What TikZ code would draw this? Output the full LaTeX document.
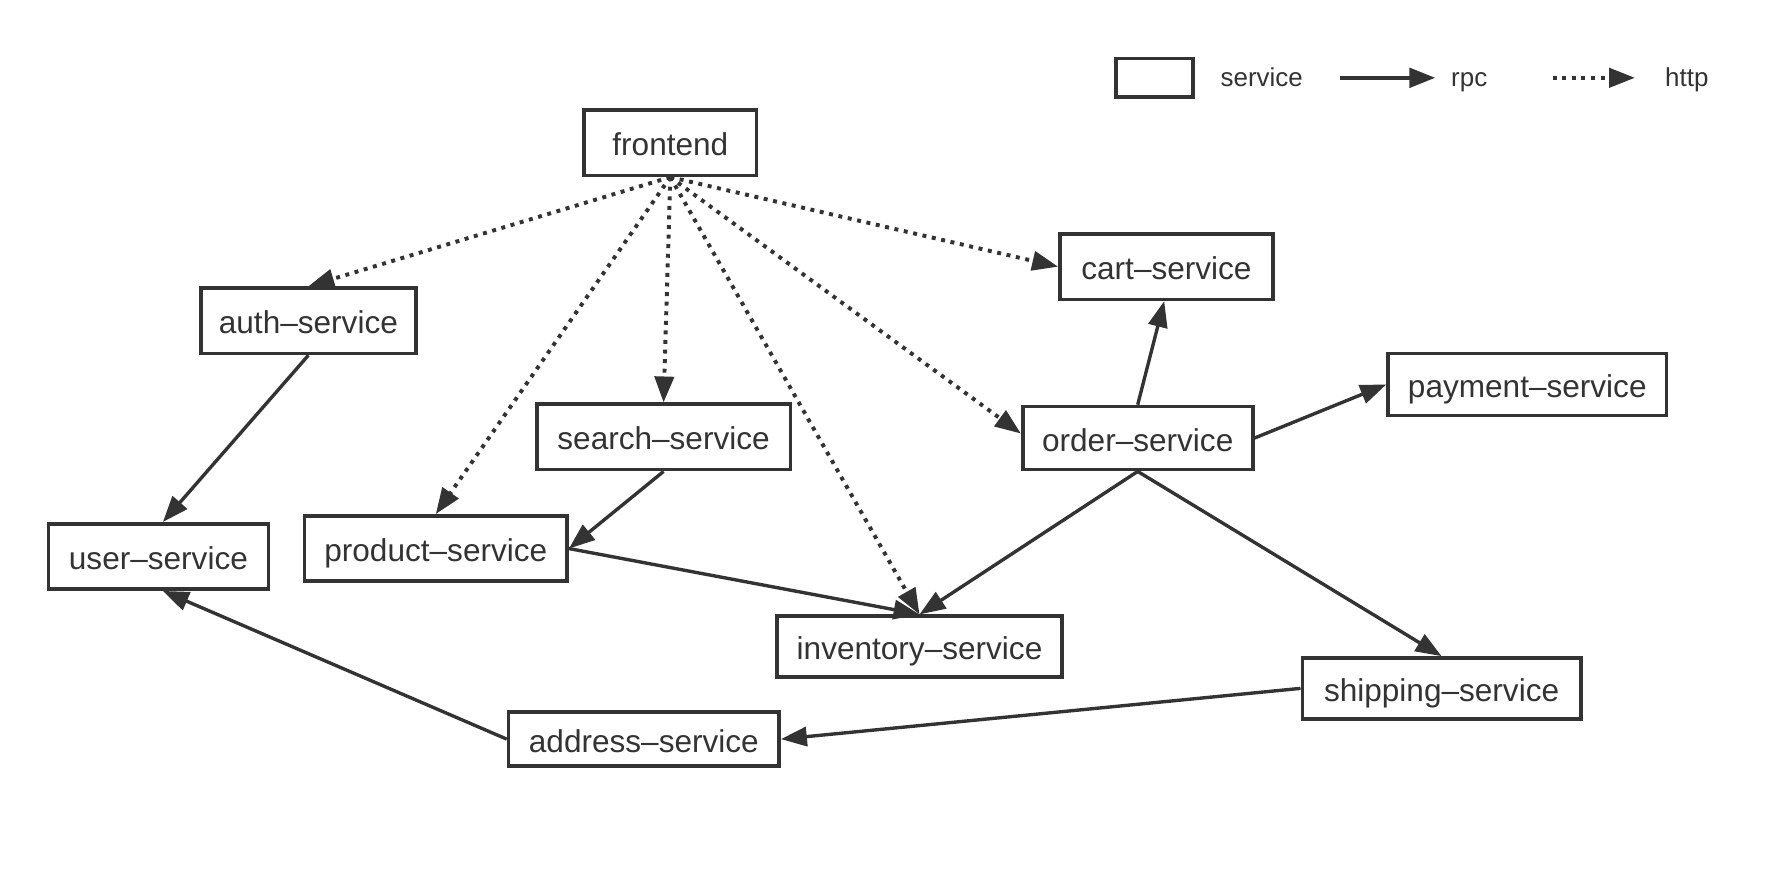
\documentclass[tikz,border=0pt]{standalone}
\usepackage{fontspec}
\setmainfont{Liberation Sans}
\usetikzlibrary{arrows.meta}
\definecolor{ink}{HTML}{333333}
\begin{document}
\begin{tikzpicture}[x=0.5pt, y=-0.5pt,
  svc/.style={draw=ink, line width=1.6pt, inner sep=0pt, minimum height=29pt, text=ink,
    text height=14pt, text depth=2.5pt, font=\fontsize{14}{17}\selectfont},
  lgd/.style={text=ink, inner sep=0pt, text height=10pt, text depth=2pt, font=\fontsize{11.5}{14}\selectfont},
  rpc/.style={draw=ink, line width=1.5pt, -{Triangle[length=11.5pt,width=8.5pt]}},
  http/.style={rpc, line width=1.75pt, dash pattern=on 1.75pt off 2.5pt}]
\useasboundingbox (0,0) rectangle (1568,777);

% legend
\node[svc, minimum width=34pt, minimum height=17pt] (lbox) at (1024,69) {};
\node[lgd] (lsvc) at (1119,69) {service};
\coordinate (lrpca) at (1188,69);
\coordinate (lrpcb) at (1273,69);
\node[lgd] (lrpc) at (1303,69) {rpc};
\coordinate (lhttpa) at (1377,69);
\coordinate (lhttpb) at (1450,69);
\node[lgd] (lhttp) at (1496,69) {http};
\draw[rpc, line width=2pt] (lrpca) -- (lrpcb);
\draw[http] (lhttpa) -- (lhttpb);

% services
\node[svc, minimum width=76.5pt] (fe) at (594.5,126.5) {frontend};
\node[svc, minimum width=95.5pt] (auth) at (273.5,284.5) {auth–service};
\node[svc, minimum width=94.5pt] (cart) at (1034.5,236.5) {cart–service};
\node[svc, minimum width=123.5pt, minimum height=27.5pt] (pay) at (1354.5,341) {payment–service};
\node[svc, minimum width=112.5pt] (search) at (588.5,387.5) {search–service};
\node[svc, minimum width=102pt, minimum height=28pt] (order) at (1009,388.5) {order–service};
\node[svc, minimum width=97.5pt] (user) at (140.5,493.5) {user–service};
\node[svc, minimum width=116.5pt] (prod) at (386.5,486.5) {product–service};
\node[svc, minimum width=126.5pt, minimum height=27pt] (inv) at (815.5,573.5) {inventory–service};
\node[svc, minimum width=123.5pt, minimum height=27pt] (ship) at (1278.5,610.5) {shipping–service};
\node[svc, minimum width=120pt, minimum height=24pt] (addr) at (571,655.5) {address–service};

% http calls
\draw[http] (fe.south) -- (auth.north);
\draw[http] (fe.south) -- (cart.west);
\draw[http] (fe.south) -- (search.north);
\draw[http] (fe.south) -- (prod.north);
\draw[http] (fe.south) -- (inv.north);
\draw[http] (fe.south) -- ([yshift=2pt]order.west);

% rpc calls
\draw[rpc] (auth.south) -- ([xshift=2pt]user.north);
\draw[rpc] (search.south) -- (prod.east);
\draw[rpc] (prod.east) -- (inv.north);
\draw[rpc] (order.south) -- (inv.north);
\draw[rpc] (order.south) -- (ship.north);
\draw[rpc] (order.north) -- ([xshift=-1pt]cart.south);
\draw[rpc] (order.east) -- (pay.west);
\draw[rpc] (ship.west) -- (addr.east);
\draw[rpc] (addr.west) -- ([xshift=2pt]user.south);
\end{tikzpicture}
\end{document}
